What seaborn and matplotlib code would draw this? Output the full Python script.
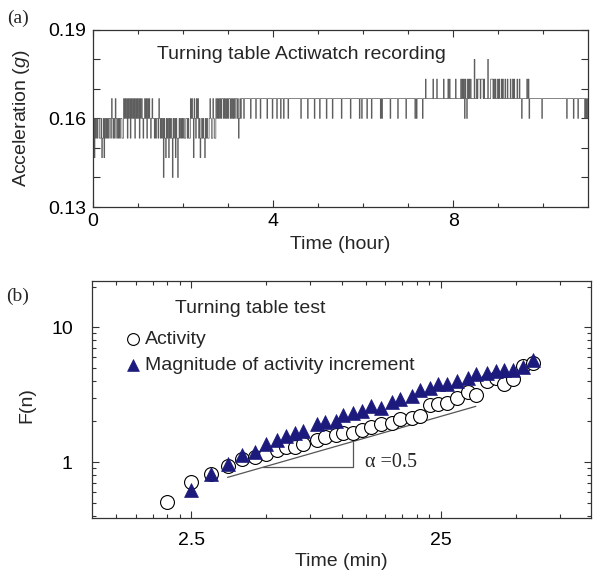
import numpy as np
import pandas as pd
import matplotlib
matplotlib.use("Agg")
import matplotlib.pyplot as plt
import seaborn as sns
from matplotlib.ticker import FixedLocator, FixedFormatter, NullFormatter, LogLocator

# ---------------- panel (a) data: Actiwatch recording ----------------
# baseline level segments (start hour, level in g)
seg_start_h = [0.00, 0.67, 1.37, 2.72, 3.30]
seg_level_g = [0.1533, 0.1600, 0.1533, 0.1600, 0.1667]

# one-epoch excursions from the baseline, grouped by the level reached
spk_1600_h = [0.02, 0.05, 0.08, 0.11, 0.14, 0.18, 0.23, 0.27, 0.30, 0.33, 0.36, 0.39,
              0.44, 0.47, 0.52, 0.55, 0.58, 0.61, 0.64,
              1.38, 1.41, 1.44, 1.49, 1.52, 1.55, 1.59, 1.63, 1.66, 1.70, 1.73, 1.78,
              1.81, 1.85, 1.88, 1.92, 1.95, 1.99, 2.02, 2.06, 2.09, 2.12, 2.18, 2.22,
              2.27, 2.32, 2.36, 2.41, 2.45, 2.50, 2.53, 2.58, 2.62, 2.68,
              3.35, 3.50, 3.61, 3.72, 3.87, 3.98, 4.09, 4.17, 4.24, 4.33, 4.61, 4.76,
              4.91, 5.04, 5.19, 5.32, 5.52, 5.72, 5.91, 5.97, 6.08, 6.19, 6.38, 6.41,
              6.60, 6.76, 6.95, 7.15, 7.19, 7.32, 7.63, 8.20, 8.25, 8.30, 8.84,
              9.42, 9.51, 9.69, 9.96, 10.51, 10.66, 10.76, 10.92, 10.95, 10.98]
spk_1667_h = [0.42, 0.50,
              0.69, 0.72, 0.75, 0.78, 0.81, 0.85, 0.88, 0.91, 0.95, 0.98, 1.01, 1.05,
              1.08, 1.11, 1.15, 1.18, 1.22, 1.25, 1.28, 1.32, 1.46,
              2.16, 2.20, 2.25, 2.30, 2.33, 2.60, 2.66,
              2.74, 2.77, 2.80, 2.83, 2.86, 2.89, 2.92, 2.95, 2.98, 3.01, 3.04, 3.07,
              3.10, 3.13, 3.16, 3.19, 3.22, 3.26]
spk_1533_h = [0.76, 0.84, 0.94, 1.04, 1.12, 1.20, 1.29, 1.36, 3.24]
spk_1467_h = [0.00, 0.03, 0.20, 0.25, 1.61, 1.68, 1.83, 2.24, 2.38, 2.48]
spk_1400_h = [1.57, 1.76, 1.89]
spk_1733_h = [7.38, 7.55, 7.63, 7.78, 7.88, 7.92, 8.05, 8.17, 8.20, 8.24, 8.27, 8.31,
              8.35, 8.38, 8.52, 8.55, 8.57, 8.59, 8.61, 8.63, 8.65, 8.68, 8.83, 8.85,
              8.87, 8.90, 8.94, 8.98, 9.02, 9.06, 9.10, 9.15, 9.20, 9.26, 9.31, 9.35,
              9.41, 9.46, 9.64, 9.67]
spk_1800_h = [8.47, 8.76]

# ---------------- panel (b) data: DFA fluctuation functions ----------------
act_t_min = [2.0, 2.5, 3.0, 3.5, 4.0, 4.5, 5.0, 5.5, 6.0, 6.5, 7.0, 8.0, 8.6, 9.5,
             10.1, 11.1, 12.1, 13.1, 14.4, 16.0, 17.1, 19.1, 20.6, 22.6, 24.4, 26.5,
             29.1, 32.2, 34.8, 38.2, 41.5, 44.9, 48.8, 53.6, 58.8]
act_F = [0.508, 0.707, 0.817, 0.94, 1.06, 1.085, 1.15, 1.22, 1.29, 1.30, 1.37, 1.46,
         1.53, 1.575, 1.64, 1.64, 1.715, 1.81, 1.90, 1.945, 2.096, 2.13, 2.18, 2.63,
         2.68, 2.74, 3.00, 3.30, 3.12, 3.99, 4.23, 3.77, 4.16, 5.13, 5.44]
mag_t_min = act_t_min[1:]
mag_F = [0.62, 0.817, 0.975, 1.137, 1.197, 1.373, 1.463, 1.548, 1.637, 1.695, 1.90,
         1.977, 2.01, 2.22, 2.31, 2.39, 2.59, 2.53, 2.79, 2.95, 3.07, 3.44, 3.57, 3.77,
         3.82, 3.99, 4.23, 4.48, 4.58, 4.74, 4.85, 4.80, 5.07, 5.69]

x_ticks_b = [2.5, 25]
x_ticklabels_b = ["2.5", "25"]

# ---------------- style ----------------
sns.set_theme(style="ticks")
plt.rcParams["font.family"] = ["Liberation Sans", "DejaVu Sans"]
plt.rcParams["mathtext.fontset"] = "custom"
plt.rcParams["mathtext.rm"] = "Liberation Sans"
plt.rcParams["mathtext.it"] = "Liberation Sans:italic"
FS = 14
SPINE = "#333333"

W, H = 602, 581
fig = plt.figure(figsize=(W / 100, H / 100), dpi=100)
fig.patch.set_facecolor("white")


def rect(l, t, r, b):
    return [l / W, 1 - b / H, (r - l) / W, (b - t) / H]


axa = fig.add_axes(rect(92.7, 29.8, 588.3, 207))
axb = fig.add_axes(rect(92.3, 281, 590.7, 518))

# ---------------- panel (a) ----------------
t_grid = np.arange(0, 11 * 60 + 1) / 60.0  # one-minute epochs
idx = np.searchsorted(seg_start_h, t_grid, side="right") - 1
g = np.array(seg_level_g)[idx]
for times, lev in [(spk_1600_h, 0.1600), (spk_1667_h, 0.1667), (spk_1533_h, 0.1533),
                   (spk_1467_h, 0.1467), (spk_1400_h, 0.1400), (spk_1733_h, 0.1733),
                   (spk_1800_h, 0.1800)]:
    g[np.clip(np.round(np.array(times) * 60).astype(int), 0, len(g) - 1)] = lev
df_a = pd.DataFrame({"hour": t_grid, "acc": g})
sns.lineplot(data=df_a, x="hour", y="acc", estimator=None, sort=True, ax=axa,
             color="#555555", linewidth=0.5, drawstyle="steps-post")
axa.set_xlim(0, 11)
axa.set_ylim(0.13, 0.19)
axa.xaxis.set_major_locator(FixedLocator([0, 4, 8]))
axa.xaxis.set_minor_locator(FixedLocator([1, 2, 3, 5, 6, 7, 9, 10]))
axa.yaxis.set_major_locator(FixedLocator([0.13, 0.16, 0.19]))
axa.yaxis.set_major_formatter(FixedFormatter(["0.13", "0.16", "0.19"]))
axa.yaxis.set_minor_locator(FixedLocator([0.14, 0.15, 0.17, 0.18]))
axa.tick_params(axis="both", which="both", direction="in", top=True, right=True,
                colors=SPINE, labelcolor="black", labelsize=FS, width=0.8)
axa.tick_params(axis="x", which="major", length=5, pad=4)
axa.tick_params(axis="x", which="minor", length=3)
axa.tick_params(axis="y", which="both", length=5, pad=5)
axa.set_xlabel("Time (hour)", fontsize=FS)
axa.set_ylabel("Acceleration ($\\mathit{g}$)", fontsize=FS)
axa.xaxis.label.set_va("center")
axa.xaxis.set_label_coords(0.5, -0.214)
axa.yaxis.label.set_va("center")
axa.yaxis.set_label_coords(-0.1427, 0.5)
axa.text(0.129, 0.858, "Turning table Actiwatch recording", transform=axa.transAxes,
         fontsize=FS, ha="left", va="center")

# ---------------- panel (b) ----------------
axb.set_xscale("log")
axb.set_yscale("log")
sns.lineplot(x=[3.49, 34.6], y=[0.77, 2.59], ax=axb, color="#555555", linewidth=0.9,
             estimator=None)
axb.plot([4.84, 11.1, 11.1], [0.915, 0.915, 1.419], color="#555555", linewidth=0.9)
sns.scatterplot(x=act_t_min, y=act_F, ax=axb, marker="o", s=100, color="white",
                edgecolor="black", linewidth=0.8, label="Activity", zorder=3)
sns.scatterplot(x=mag_t_min, y=mag_F, ax=axb, marker="^", s=100, color="#1c1a7c",
                edgecolor="#1c1a7c", linewidth=0.5,
                label="Magnitude of activity increment", zorder=4)
axb.set_xlim(1, 100)
axb.set_ylim(0.385, 22)
axb.xaxis.set_major_locator(FixedLocator(x_ticks_b))
axb.xaxis.set_major_formatter(FixedFormatter(x_ticklabels_b))
axb.xaxis.set_minor_locator(FixedLocator([1.25, 1.5, 1.75, 2, 2.25, 5, 7.5, 10, 12.5, 15,
                                          17.5, 20, 22.5, 50, 75]))
axb.xaxis.set_minor_formatter(NullFormatter())
axb.yaxis.set_major_locator(FixedLocator([1, 10]))
axb.yaxis.set_major_formatter(FixedFormatter(["1", "10"]))
axb.yaxis.set_minor_locator(LogLocator(base=10, subs=np.arange(2, 10)))
axb.yaxis.set_minor_formatter(NullFormatter())
axb.tick_params(axis="both", which="both", direction="in", top=True, right=True,
                colors=SPINE, labelcolor="black", labelsize=FS, width=0.8)
axb.tick_params(axis="both", which="major", length=5)
axb.tick_params(axis="both", which="minor", length=3)
axb.tick_params(axis="x", which="both", pad=10)
axb.tick_params(axis="y", which="both", pad=14)
axb.set_xlabel("Time (min)", fontsize=FS)
axb.set_ylabel("F(n)", fontsize=FS)
axb.xaxis.label.set_va("center")
axb.xaxis.set_label_coords(0.5, -0.1844)
axb.yaxis.label.set_va("center")
axb.yaxis.set_label_coords(-0.1316, 0.477)
axb.text(0.166, 0.886, "Turning table test", transform=axb.transAxes, fontsize=FS,
         ha="left", va="center")
axb.text(12.38, 0.99, "\u03b1 =0.5", fontsize=14.5, ha="left", va="center",
         family=["Liberation Serif", "DejaVu Serif"])
axb.legend(loc="upper left", bbox_to_anchor=(0.069, 0.79), frameon=False, fontsize=FS,
           handlelength=0.6, handletextpad=0.35, borderaxespad=0, borderpad=0,
           labelspacing=0.42, markerscale=0.85)

for ax in (axa, axb):
    for sp in ax.spines.values():
        sp.set_visible(True)
        sp.set_color(SPINE)
        sp.set_linewidth(0.9)

fig.text(18 / W, 1 - 18 / H, "(a)", fontsize=14, ha="center", va="center",
         family=["Liberation Serif", "DejaVu Serif"])
fig.text(18 / W, 1 - 296 / H, "(b)", fontsize=14, ha="center", va="center",
         family=["Liberation Serif", "DejaVu Serif"])

fig.savefig("out.png", dpi=100, facecolor="white")
